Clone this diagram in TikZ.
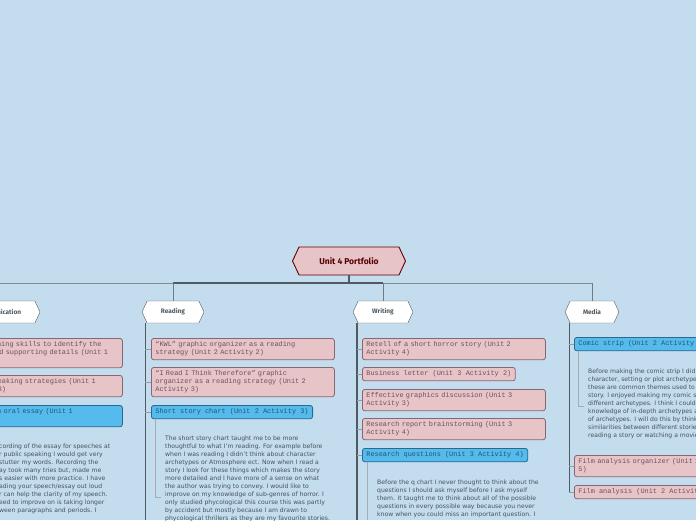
\documentclass[tikz,border=0pt]{standalone}
\usepackage{fontspec}
\setmainfont{DejaVu Sans}
\newfontfamily\monof{Liberation Mono}
\newfontfamily\hexf{Fira Sans}
\usetikzlibrary{shapes.symbols}
\definecolor{bg}{HTML}{C3DDEF}
\definecolor{pinkf}{HTML}{E6C4C8}
\definecolor{pinkd}{HTML}{8A6670}
\definecolor{bluef}{HTML}{55BBEC}
\definecolor{blued}{HTML}{2A6A90}
\definecolor{linec}{HTML}{4F5A62}
\definecolor{bodyc}{HTML}{48525A}
\tikzset{
 itembox/.style={rounded corners=2.5pt,line width=0.8pt,anchor=north west,inner xsep=4pt,inner ysep=3.5pt,align=left,font=\monof\fontsize{6.9}{8}\selectfont},
 pinkbox/.style={itembox,draw=pinkd,fill=pinkf,text=pinkd!80!black},
 bluebox/.style={itembox,draw=blued,fill=bluef,text=blued!80!black},
 hexa/.style={signal,signal to=east and west,signal pointer angle=130},
 cat/.style={hexa,draw=linec,fill=white,minimum height=22pt,font=\hexf\bfseries\fontsize{6.5}{7}\selectfont,text=linec,inner xsep=3pt},
 body/.style={anchor=north west,align=left,font=\fontsize{6.1}{8}\selectfont,text=bodyc,inner sep=0pt},
 conn/.style={draw=linec,line width=0.7pt},
}
\begin{document}
\begin{tikzpicture}[x=1pt,y=-1pt]
\fill[bg] (0,0) rectangle (696,520);
\useasboundingbox (0,0) rectangle (696,520);
\clip (0,0) rectangle (696,520);
% root
\node[hexa,draw=red!40!black,line width=0.9pt,fill=pinkf,minimum width=113pt,minimum height=28pt,font=\hexf\bfseries\fontsize{8.5}{9}\selectfont,text=red!35!black] (root) at (349,261) {Unit 4 Portfolio};
% categories
\node[cat,minimum width=84pt] (comm) at (-2,312) {Communication};
\node[cat,minimum width=62pt] (read) at (173,312) {Reading};
\node[cat,minimum width=60pt] (writ) at (383,312) {Writing};
\node[cat,minimum width=54pt] (media) at (592,312) {Media};
\coordinate (bus) at (349,283);
\draw[conn,line width=1.2pt] (root.south) -- (bus);
\draw[conn,line width=1pt,draw=linec!70] (-20,283) -- (592,283);
\draw[conn,line width=1.4pt] (173,283) -- (383,283);
\foreach \n/\x in {comm/-2,read/173,writ/383,media/592}{\draw[conn,draw=linec!80] (\x,283) -- (\n.north);}
% Communication
\node[pinkbox,text width=165pt] (c1) at (-51,338) {Using listening skills to identify the\\main idea and supporting details (Unit 1\\Activity 2)};
\node[pinkbox,text width=156pt] (c2) at (-42,375) {Public speaking strategies (Unit 1\\Activity 3)};
\node[bluebox,text width=169pt] (c3) at (-55,405) {Presenting an oral essay (Unit 1\\Activity 4)};
\node[body] (ct) at (-1,444) {cording of the essay for speeches at\\r public speaking I would get very\\stutter my words. Recording the\\ay took many tries but,  made me\\s easier with more practice. I have\\ading your speech/essay out loud\\r can help the clarity of my speech.\\eed to improve on is taking longer\\ween paragraphs and periods. I};
% Reading
\draw[conn] (145,323) -- (145,520);
\node[pinkbox,text width=175pt] (r1) at (151,338) {“KWL” graphic organizer as a reading\\strategy (Unit 2 Activity 2)};
\node[pinkbox,text width=175pt] (r2) at (151,367) {“I Read I Think Therefore” graphic\\organizer as a reading strategy (Unit 2\\Activity 3)};
\node[bluebox] (r3) at (151,405) {Short story chart (Unit 2 Activity 3)};
\foreach \n in {r1,r2,r3}{\draw[conn,draw=linec!60] (145,0|-\n.west) -- (\n.west);}
\node[body] (rt) at (165,436) {The short story chart taught me to be more\\thoughtful to what I'm reading. For example before\\when I was reading I didn't think about character\\archetypes or Atmosphere ect. Now when I read a\\story I look for these things which makes the story\\more detailed and I have more of a sense on what\\the author was trying to convey. I would like to\\improve on my knowledge of sub-genres of horror. I\\only studied phycological this course this was partly\\by accident but mostly because I am drawn to\\phycological thrillers as they are my favourite stories.};
\draw[conn,draw=linec!50] (155,419) -- (155,497) -- (161,497);
% Writing
\draw[conn,line width=1.3pt] (357,323) -- (357,520);
\node[pinkbox,text width=175pt] (w1) at (362,338) {Retell of a short horror story (Unit 2\\Activity 4)};
\node[pinkbox] (w2) at (362,367) {Business letter (Unit 3 Activity 2)};
\node[pinkbox,text width=175pt] (w3) at (362,389) {Effective graphics discussion (Unit 3\\Activity 3)};
\node[pinkbox,text width=175pt] (w4) at (362,418) {Research report brainstorming (Unit 3\\Activity 4)};
\node[bluebox] (w5) at (362,448) {Research questions (Unit 3 Activity 4)};
\foreach \n in {w1,w2,w3,w4,w5}{\draw[conn,draw=linec!60] (357,0|-\n.west) -- (\n.west);}
\draw[conn,draw=linec!50,line width=1pt] (367,462) -- (367,520);
\node[body] (wt) at (377,480) {Before the q chart I never thought to think about the\\questions I should ask myself before I ask myself\\them. It taught me to think about all of the possible\\questions in every possible way because you never\\know when you could miss an important question. I};
% Media
\draw[conn] (569,323) -- (569,492);
\node[bluebox] (m1) at (574,337) {Comic strip (Unit 2 Activity 5)};
\node[body] (mt) at (588,369) {Before making the comic strip I did not know what a\\character, setting or plot archetype was. I learned\\these are common themes used to help tell a\\story. I enjoyed making my comic strip with\\different archetypes. I think I could improve my\\knowledge of in-depth archetypes and the types\\of archetypes. I will do this by thinking about\\similarities between different stories when I am\\reading a story or watching a movie.};
\draw[conn,draw=linec!50] (578,351) -- (578,406) -- (584,406);
\node[pinkbox,text width=175pt] (m2) at (574,455) {Film analysis organizer (Unit 2 Activity\\5)};
\node[pinkbox] (m3) at (574,485) {Film analysis (Unit 2 Activity 5)};
\foreach \n in {m1,m2,m3}{\draw[conn,draw=linec!60] (569,0|-\n.west) -- (\n.west);}
\end{tikzpicture}
\end{document}
